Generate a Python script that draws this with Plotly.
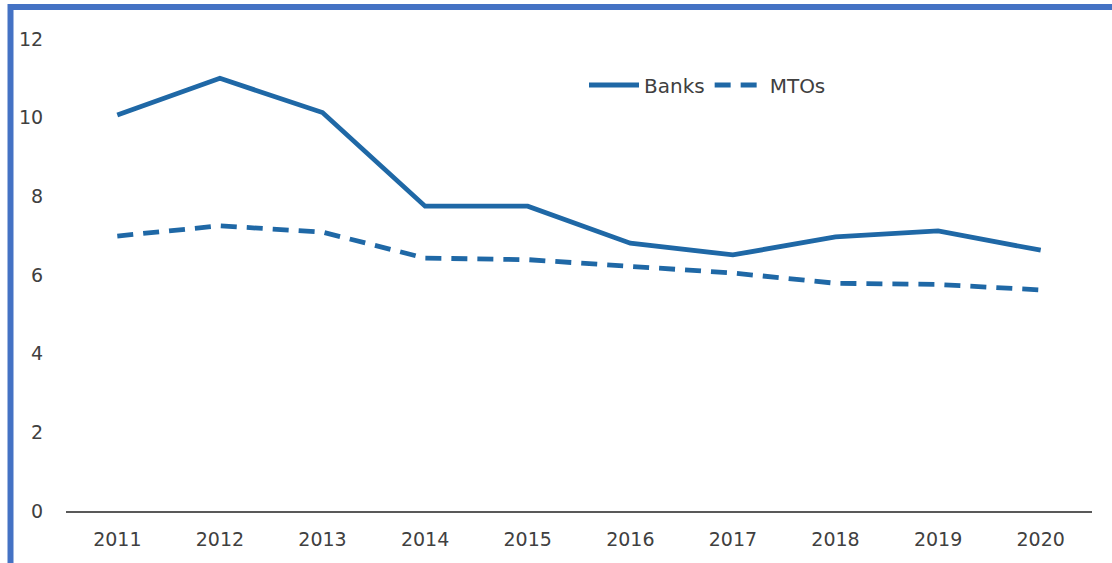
import plotly.graph_objects as go

years = ["2011", "2012", "2013", "2014", "2015", "2016", "2017", "2018", "2019", "2020"]
banks = [10.07, 11.0, 10.13, 7.75, 7.75, 6.81, 6.51, 6.97, 7.12, 6.63]
mtos = [6.99, 7.25, 7.09, 6.43, 6.39, 6.22, 6.05, 5.79, 5.76, 5.62]
yticks = [0, 2, 4, 6, 8, 10, 12]

line_color = "#1f68a6"
font = dict(family="DejaVu Sans, Liberation Sans, Arial, sans-serif", size=19, color="#404040")
legend_font = dict(family="DejaVu Sans, Liberation Sans, Arial, sans-serif", size=20, color="#404040")

fig = go.Figure()
fig.add_trace(go.Scatter(x=years, y=banks, name="Banks", mode="lines",
                         line=dict(color=line_color, width=4.8)))
fig.add_trace(go.Scatter(x=years, y=mtos, name="MTOs", mode="lines",
                         line=dict(color=line_color, width=4.8, dash="16px,10px")))

W, H = 1112, 563
ml, mr, mt, mb = 66, 20, 39, 52
pw = W - ml - mr
ph = H - mt - mb

def px_to_paper_x(p):
    return (p - ml) / pw

def px_to_paper_y(p):
    return (H - mb - p) / ph

border_color = "#4472c4"
fig.update_layout(
    width=W, height=H,
    margin=dict(l=ml, r=mr, t=mt, b=mb, pad=0),
    paper_bgcolor="white", plot_bgcolor="white",
    font=font,
    showlegend=True,
    legend=dict(orientation="h", x=px_to_paper_x(584), y=px_to_paper_y(85),
                xanchor="left", yanchor="middle", bgcolor="rgba(0,0,0,0)",
                font=legend_font, itemwidth=50, tracegroupgap=0),
    xaxis=dict(type="category", range=[-0.5, 9.5], showgrid=False,
               showline=True, linecolor="#595959", linewidth=2,
               ticks="outside", ticklen=10, tickcolor="rgba(0,0,0,0)",
               tickfont=font, zeroline=False, fixedrange=True),
    yaxis=dict(range=[0, 12], tickvals=yticks, showgrid=False, showline=False,
               zeroline=False, ticks="outside", ticklen=18,
               tickcolor="rgba(0,0,0,0)", tickfont=font, fixedrange=True),
    shapes=[
        dict(type="line", xref="paper", yref="paper",
             x0=px_to_paper_x(10.5), x1=px_to_paper_x(1115),
             y0=px_to_paper_y(7), y1=px_to_paper_y(7),
             line=dict(color=border_color, width=6)),
        dict(type="line", xref="paper", yref="paper",
             x0=px_to_paper_x(10.5), x1=px_to_paper_x(10.5),
             y0=px_to_paper_y(4), y1=px_to_paper_y(566),
             line=dict(color=border_color, width=6)),
    ],
)

fig.write_html("out.html", config={"displayModeBar": False},
               post_script="document.body.style.margin='0';document.body.style.overflow='hidden';")
